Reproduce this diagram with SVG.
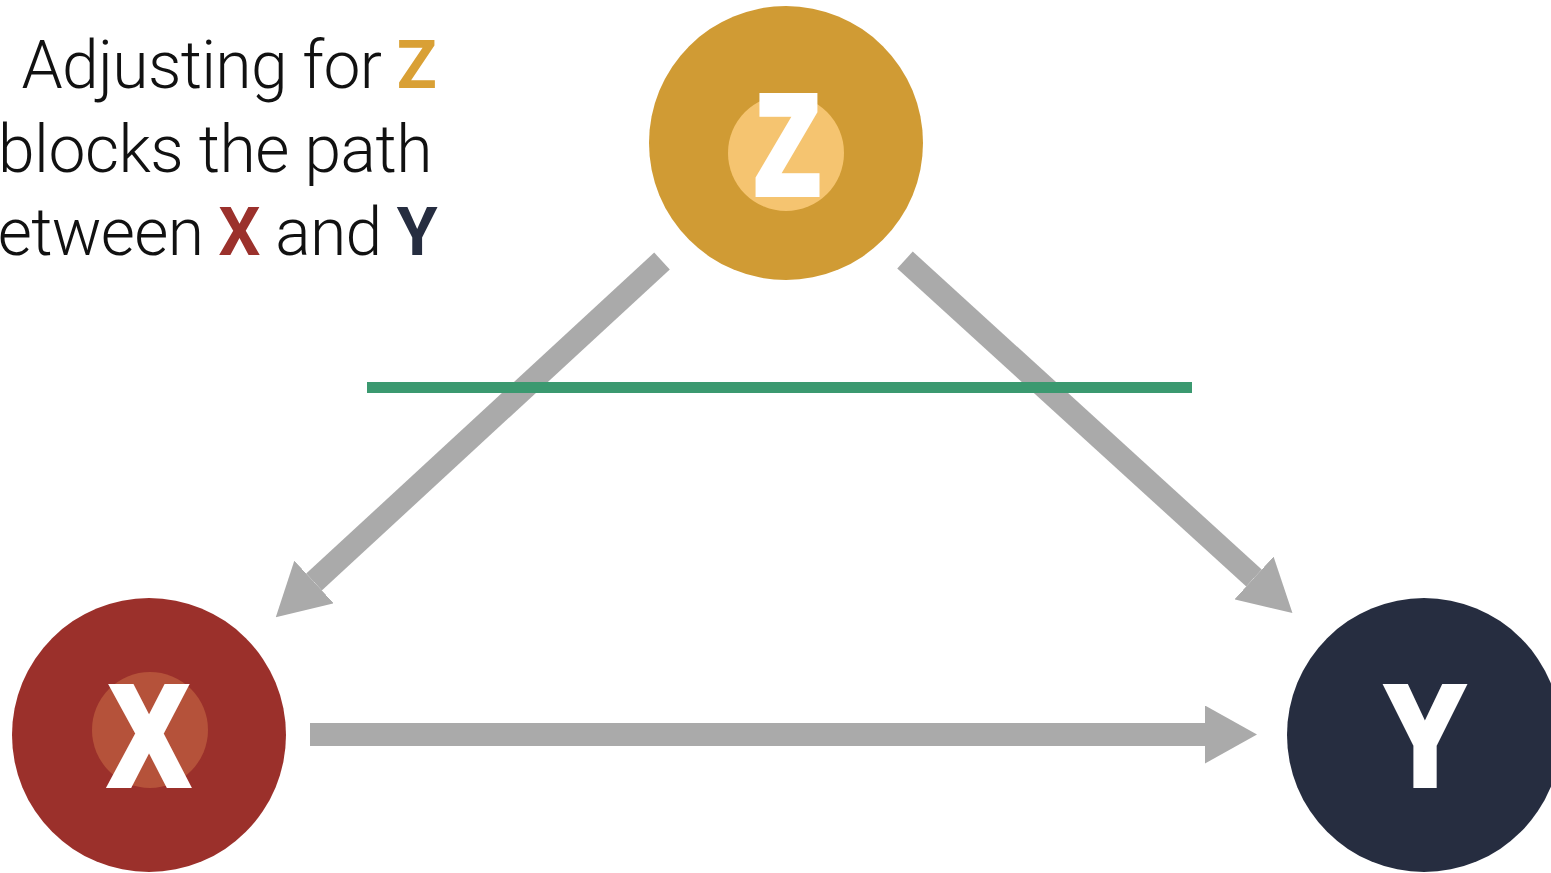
<svg xmlns="http://www.w3.org/2000/svg" width="1551" height="873" viewBox="0 0 1551 873">
<style>
.cap{font-family:"Roboto","Liberation Sans",sans-serif;font-weight:300;font-size:66px;fill:#111111;text-anchor:end}
.b{font-weight:700}
.node-letter{font-family:"Liberation Sans","Roboto",sans-serif;font-weight:700;font-size:140px;fill:#ffffff;stroke:#ffffff;stroke-width:8;stroke-linejoin:miter;text-anchor:middle}
.shaft{stroke:#aaaaaa;stroke-width:23;fill:none;stroke-linecap:butt}
</style>
<defs>
<marker id="head" viewBox="0 0 52 58" markerWidth="52" markerHeight="58" refX="0" refY="29" orient="auto" markerUnits="userSpaceOnUse">
<path d="M0,0 L52,29 L0,58 Z" fill="#aaaaaa"/>
</marker>
</defs>
<rect width="1551" height="873" fill="#ffffff"/>
<g id="caption">
<text class="cap" x="436" y="88" letter-spacing="-0.7">Adjusting for <tspan class="b" fill="#D9A035">Z</tspan></text>
<text class="cap" x="432" y="172" letter-spacing="-0.5">blocks the path</text>
<text class="cap" x="437" y="255" letter-spacing="-0.7">between <tspan class="b" fill="#9B312C">X</tspan> and <tspan class="b" fill="#262D40">Y</tspan></text>
</g>
<g id="connectors">
<line class="shaft" x1="662" y1="261" x2="314" y2="582" marker-end="url(#head)"/>
<line class="shaft" x1="905" y1="260" x2="1254" y2="578" marker-end="url(#head)"/>
<line class="shaft" x1="310" y1="734.5" x2="1205" y2="734.5" marker-end="url(#head)"/>
</g>
<g id="block-line">
<rect x="367" y="382" width="825" height="11" fill="#3B9970"/>
</g>
<g id="node-z">
<circle cx="786" cy="143" r="137" fill="#D09B34"/>
<circle cx="786" cy="153" r="58" fill="#F5C470"/>
<text class="node-letter" x="787.5" y="193" textLength="64" lengthAdjust="spacingAndGlyphs">Z</text>
</g>
<g id="node-x">
<circle cx="149" cy="735" r="137" fill="#9B302B"/>
<circle cx="150" cy="730" r="58" fill="#B5523A"/>
<text class="node-letter" x="149" y="784" textLength="76" lengthAdjust="spacingAndGlyphs">X</text>
</g>
<g id="node-y">
<circle cx="1424" cy="735" r="137" fill="#262D40"/>
<text class="node-letter" x="1425" y="784" textLength="77" lengthAdjust="spacingAndGlyphs">Y</text>
</g>
</svg>
